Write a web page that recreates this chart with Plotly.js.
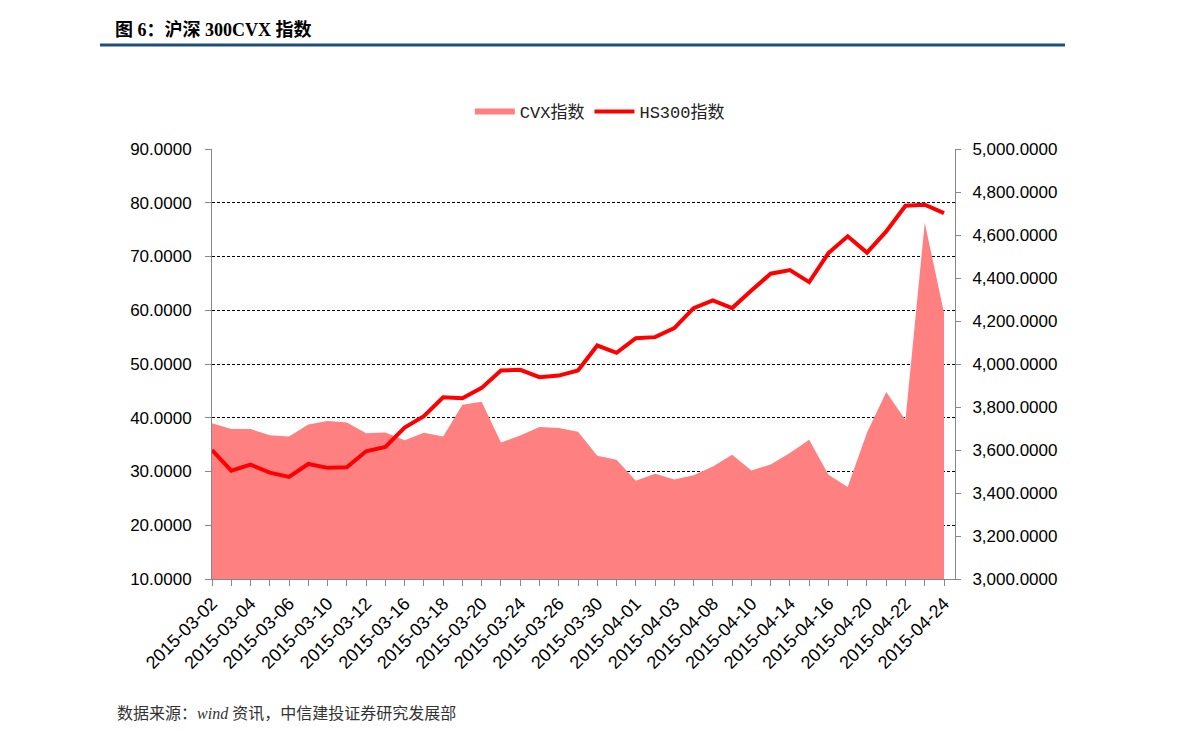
<!DOCTYPE html>
<html>
<head>
<meta charset="utf-8">
<script src="https://cdn.plot.ly/plotly-3.0.1.min.js"></script>
<style>html,body{margin:0;padding:0;background:#fff;}#chart{width:1191px;height:741px;}</style>
</head>
<body>
<div id="chart"></div>
<script>
var dates = ["2015-03-02","2015-03-03","2015-03-04","2015-03-05","2015-03-06","2015-03-09","2015-03-10","2015-03-11","2015-03-12","2015-03-13",
  "2015-03-16","2015-03-17","2015-03-18","2015-03-19","2015-03-20","2015-03-23","2015-03-24","2015-03-25","2015-03-26","2015-03-27",
  "2015-03-30","2015-03-31","2015-04-01","2015-04-02","2015-04-03","2015-04-07","2015-04-08","2015-04-09","2015-04-10","2015-04-13",
  "2015-04-14","2015-04-15","2015-04-16","2015-04-17","2015-04-20","2015-04-21","2015-04-22","2015-04-23","2015-04-24"];
var cvx = [39.0,37.9,37.9,36.75,36.5,38.75,39.4,39.1,37.1,37.25,
  35.8,37.2,36.5,42.4,43.0,35.4,36.7,38.3,38.1,37.4,
  32.95,32.2,28.3,29.6,28.5,29.3,30.95,33.1,30.2,31.3,
  33.45,35.9,29.4,27.1,37.2,44.8,39.6,76.3,59.5];
var hs300 = [3600,3504,3532,3495,3475,3535,3517,3520,3594,3614,
  3704,3757,3845,3841,3889,3970,3973,3939,3946,3970,
  4086,4052,4120,4125,4167,4260,4296,4260,4342,4420,
  4437,4381,4516,4594,4518,4617,4736,4741,4702];
var tickLabels = dates.map(function(d,i){ return i % 2 === 0 ? d : ""; });

var tickFont = {family: "Liberation Sans, Arial, sans-serif", size: 17, color: "#000"};
var xTickFont = {family: "Liberation Sans, Arial, sans-serif", size: 18, color: "#000"};

var traces = [
  {x: dates, y: cvx, name: "CVX指数", type: "scatter", mode: "none", fill: "tozeroy",
   fillcolor: "rgb(255,128,128)", yaxis: "y"},
  {x: dates, y: hs300, name: "HS300指数", type: "scatter", mode: "lines",
   line: {color: "#FF0000", width: 4}, yaxis: "y2"}
];

var layout = {
  width: 1191, height: 741,
  margin: {l: 212, r: 236, t: 149, b: 162},
  paper_bgcolor: "#fff", plot_bgcolor: "#fff",
  showlegend: true,
  title: {text: "<b>图 6：沪深 300CVX 指数</b>", xref: "container", yref: "container",
    x: 115/1191, xanchor: "left", y: 1 - 30/741, yanchor: "middle",
    font: {family: "Liberation Serif, Noto Sans CJK SC, serif", size: 18, color: "#000"}},
  legend: {orientation: "h", x: 0.522, xanchor: "center", y: 1.086, yanchor: "middle",
    font: {family: "Liberation Mono, Noto Sans CJK SC, monospace", size: 17, color: "#222"},
    itemwidth: 40, bgcolor: "rgba(0,0,0,0)"},
  xaxis: {type: "category", range: [0, 38.57], tickmode: "array", tickvals: dates, ticktext: tickLabels,
    tickangle: -45, tickfont: xTickFont, ticks: "outside", ticklen: 6, tickcolor: "#888",
    showline: true, linecolor: "#888", linewidth: 1, showgrid: false, zeroline: false, fixedrange: true},
  yaxis: {range: [10, 90], dtick: 10, tickformat: ".4f", tickfont: tickFont,
    ticks: "outside", ticklen: 6, tickcolor: "#888", ticklabelstandoff: 10,
    showline: true, linecolor: "#888", linewidth: 1,
    showgrid: true, gridcolor: "#000", gridwidth: 1, griddash: "3px,2px", zeroline: false},
  yaxis2: {range: [3000, 5000], dtick: 200, tickformat: ",.4f", tickfont: tickFont, overlaying: "y", side: "right",
    ticks: "outside", ticklen: 5, tickcolor: "#888", ticklabelstandoff: 8,
    showline: true, linecolor: "#888", linewidth: 1, showgrid: false, zeroline: false},
  shapes: [
    {type: "line", xref: "paper", yref: "paper", x0: (100-212)/743, x1: (1065-212)/743,
     y0: (579-45)/430, y1: (579-45)/430, line: {color: "#1F4E79", width: 3}}
  ],
  annotations: [
    {xref: "paper", yref: "paper", x: (115-212)/743, y: (579-713)/430, xanchor: "left", yanchor: "middle",
     showarrow: false, text: "数据来源：<i>wind</i> 资讯，中信建投证券研究发展部",
     font: {family: "Liberation Serif, Noto Sans CJK SC, serif", size: 16, color: "#333"}}
  ]
};

Plotly.newPlot("chart", traces, layout, {displayModeBar: false, staticPlot: true});
</script>
</body>
</html>
